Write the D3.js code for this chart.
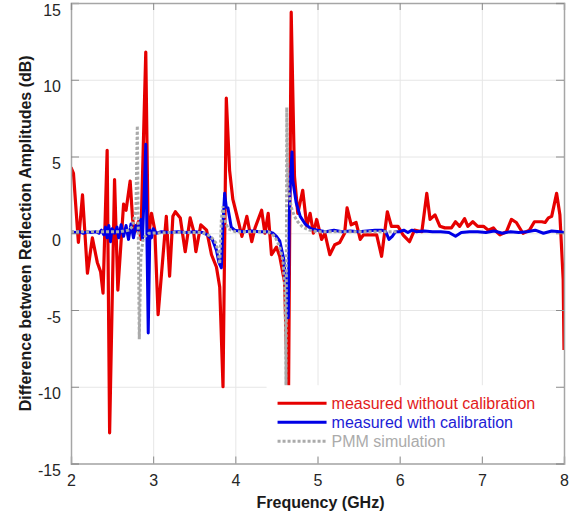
<!DOCTYPE html>
<html>
<head>
<meta charset="utf-8">
<script src="https://cdn.jsdelivr.net/npm/d3@7"></script>
<style>
    body { margin: 0; background: #fff; }
    svg text { font-family: "Liberation Sans", Arial, sans-serif; }
</style>
</head>
<body>
<div id="chart"></div>
<script>

// measured without calibration (red)
var redFreq = [2.00,2.03,2.09,2.14,2.20,2.26,2.32,2.36,2.39,2.44,2.47,2.53,2.57,2.64,2.67,2.72,2.75,2.78,2.82,2.85,
    2.91,2.94,2.98,3.02,3.06,3.16,3.20,3.24,3.27,3.33,3.39,3.45,3.49,3.52,3.58,3.65,3.71,3.77,3.81,3.85,
    3.89,3.93,3.97,4.04,4.08,4.14,4.20,4.24,4.32,4.36,4.40,4.44,4.50,4.54,4.60,4.645,4.68,4.72,4.76,4.82,
    4.87,4.91,4.95,4.99,5.05,5.09,5.15,5.21,5.27,5.33,5.36,5.41,5.47,5.52,5.56,5.64,5.72,5.78,5.85,5.90,
    5.98,6.04,6.12,6.18,6.27,6.33,6.37,6.43,6.49,6.55,6.63,6.68,6.73,6.79,6.83,6.89,6.95,7.02,7.08,7.14,
    7.18,7.22,7.30,7.36,7.42,7.50,7.58,7.64,7.73,7.77,7.81,7.85,7.91,7.95,7.99,8.00];
var redVals = [4.3,3.9,-0.6,2.5,-2.6,-0.3,-1.9,-2.5,-3.9,5.4,-13.0,3.5,-3.7,1.9,1.5,3.4,0.9,0.1,0.75,-0.4,
    11.8,-0.4,1.3,0.2,-5.3,1.1,-2.8,1.1,1.4,1.0,-1.2,1.0,0.2,-1.2,0.55,0.2,-1.4,-2.2,-3.5,-10.0,
    8.8,4.1,2.2,0.7,-0.2,1.1,-0.55,0.35,1.5,0,1.3,-1.4,-0.9,-1.5,-3.2,-12.5,14.4,3.7,1.3,2.8,
    0.45,1.3,0,0.9,-0.4,0,-1.4,-0.75,-0.6,0,1.65,0.55,0.7,-0.4,-0.1,-0.1,-0.1,-1.5,1.4,0.45,
    0.45,-0.1,-0.55,0.2,0.1,2.6,0.9,1.2,0.45,0.35,0.35,0.75,0.45,0.95,0.45,0.75,0.45,0.45,0.2,0.35,
    0.1,-0.1,0.1,0.9,0.7,0,0.2,0.75,0.75,0.7,1.0,1.1,2.6,1.2,-3.0,-7.6];

// measured with calibration (blue)
var blueFreq = [2.00,2.05,2.10,2.15,2.20,2.25,2.30,2.34,2.37,2.40,2.42,2.44,2.46,2.48,2.50,2.53,2.56,2.58,2.61,2.64,
    2.67,2.70,2.73,2.76,2.79,2.82,2.85,2.87,2.89,2.91,2.925,2.94,2.96,2.98,3.00,3.04,3.10,3.20,3.30,3.40,
    3.50,3.60,3.66,3.72,3.77,3.80,3.83,3.85,3.87,3.89,3.91,3.95,3.99,4.10,4.20,4.30,4.40,4.46,4.50,4.54,
    4.59,4.62,4.645,4.655,4.67,4.69,4.70,4.74,4.79,4.85,4.92,5.00,5.10,5.20,5.30,5.40,5.50,5.60,5.70,5.78,
    5.83,5.87,5.91,5.95,6.00,6.05,6.10,6.15,6.20,6.30,6.40,6.50,6.60,6.68,6.75,6.85,6.95,7.05,7.15,7.25,
    7.35,7.45,7.55,7.65,7.75,7.85,7.95,8.00];
var blueVals = [0.1,0.05,0.1,0.0,0.1,0.05,0.1,0.0,0.2,-0.1,0.4,-0.3,0.5,-0.55,0.3,0.0,0.4,-0.3,0.55,-0.2,
    0.5,-0.4,0.6,-0.3,0.5,0.2,0.9,-0.4,2.6,5.8,-0.6,-6.5,0.2,-0.3,0.3,0.0,0.1,0.05,0.1,0.05,
    0.1,0.05,-0.1,-0.4,-1.1,-1.9,-2.25,0.7,2.6,1.7,1.65,0.4,0.2,0.1,0.15,0.1,0.1,0.0,-0.2,-0.5,
    -1.7,-3.5,-5.5,0.9,3.5,5.3,3.4,2.0,1.1,0.6,0.3,0.2,0.1,0.2,0.1,0.15,0.1,0.15,0.2,0.2,
    0.1,-0.4,-0.2,0.1,0.1,0.2,0.05,0.2,0.1,0.15,0.1,0.1,0.05,-0.2,0.05,0.1,0.1,0.05,0.15,0.0,
    0.1,0.05,0.1,0.2,0.0,0.15,0.1,0.05];

// PMM simulation (grey, dotted)
var pmmFreq = [2.00,2.20,2.40,2.60,2.70,2.75,2.79,2.807,2.831,2.85,2.88,2.95,3.20,3.60,3.70,3.76,3.79,3.81,3.83,3.85,
    3.87,3.91,4.00,4.40,4.48,4.54,4.58,4.60,4.61,4.617,4.626,4.64,4.68,4.72,4.76,4.82,4.90,5.00,5.50,5.97];
var pmmVals = [0.1,0.1,0.1,0.1,0.2,0.45,1.5,7.0,-6.9,-1.5,-0.3,0.0,0.05,0.05,-0.2,-0.6,-1.2,-2.0,0.9,1.75,
    0.9,0.3,0.1,0.1,-0.2,-0.9,-1.8,-3.5,-6.0,-10.5,8.2,3.0,1.7,1.1,0.75,0.4,0.2,0.1,0.1,0.1];

var xTicks = [2, 3, 4, 5, 6, 7, 8];
var yTicks = [-15, -10, -5, 0, 5, 10, 15];
var legendLabels = ["measured without calibration", "measured with calibration", "PMM simulation"];
var seriesColors = ["#e60000", "#0000e6", "#aaaaaa"];
var legendTextColors = ["#e21b1b", "#1c1cd6", "#ababab"];

var width = 581, height = 518;
var margin = {top: 3, right: 17, bottom: 54.5, left: 71};
var plotW = width - margin.left - margin.right;
var plotH = height - margin.top - margin.bottom;

var svg = d3.select("#chart").append("svg")
    .attr("width", width)
    .attr("height", height);

svg.append("rect").attr("width", width).attr("height", height).attr("fill", "#fff");

var g = svg.append("g").attr("transform", "translate(" + margin.left + "," + margin.top + ")");

var x = d3.scaleLinear().domain([2, 8]).range([0, plotW]);
var y = d3.scaleLinear().domain([-15, 15]).range([plotH, 0]);

//grid lines
g.append("g")
    .attr("class", "grid")
    .attr("transform", "translate(0," + plotH + ")")
    .call(d3.axisBottom(x).tickValues(xTicks).tickSize(-plotH).tickFormat(""))
    .call(s => s.select(".domain").remove());
g.append("g")
    .attr("class", "grid")
    .call(d3.axisLeft(y).tickValues(yTicks).tickSize(-plotW).tickFormat(""))
    .call(s => s.select(".domain").remove());
g.selectAll(".grid line").attr("stroke", "#e6e6e6").attr("stroke-width", 1);

//curves
g.append("clipPath").attr("id", "clip")
    .append("rect").attr("width", plotW).attr("height", plotH);

var line = d3.line()
    .x(function (d) { return x(d[0]); })
    .y(function (d) { return y(d[1]); });

function pairs(f, v) {
    return f.map(function (d, i) { return [d, v[i]]; });
}

var curves = g.append("g").attr("clip-path", "url(#clip)");

curves.append("path")
    .datum(pairs(redFreq, redVals))
    .attr("d", line)
    .attr("fill", "none")
    .attr("stroke", seriesColors[0])
    .attr("stroke-width", 3.2)
    .attr("stroke-linejoin", "round");

curves.append("path")
    .datum(pairs(blueFreq, blueVals))
    .attr("d", line)
    .attr("fill", "none")
    .attr("stroke", seriesColors[1])
    .attr("stroke-width", 3)
    .attr("stroke-linejoin", "round");

curves.append("path")
    .datum(pairs(pmmFreq, pmmVals))
    .attr("d", line)
    .attr("fill", "none")
    .attr("stroke", seriesColors[2])
    .attr("stroke-width", 3)
    .attr("stroke-dasharray", "3,2");

//legend (white box over the plot, no border)
var legend = g.append("g").attr("transform", "translate(" + x(4.38) + "," + y(-9.9) + ")");
legend.append("rect")
    .attr("width", x(7.95) - x(4.38))
    .attr("height", y(-14.6) - y(-9.9))
    .attr("fill", "#fff");

legendLabels.forEach(function (label, i) {
    var row = legend.append("g").attr("transform", "translate(0," + (18 + i * 19) + ")");
    row.append("line")
        .attr("x1", 11).attr("x2", 60)
        .attr("stroke", seriesColors[i])
        .attr("stroke-width", 3)
        .attr("stroke-dasharray", i == 2 ? "3,2" : null);
    row.append("text")
        .attr("x", 65)
        .attr("dy", "0.35em")
        .attr("font-size", 16)
        .attr("fill", legendTextColors[i])
        .text(label);
});

//axes with inward ticks, box around the plot
var axisColor = "#a6a6a6";
var plainNum = function (d) { return String(d); };   // ascii hyphen for negatives

var xAxis = g.append("g")
    .attr("transform", "translate(0," + plotH + ")")
    .call(d3.axisBottom(x).tickValues(xTicks).tickSize(-7).tickPadding(11).tickFormat(plainNum));
var yAxis = g.append("g")
    .call(d3.axisLeft(y).tickValues(yTicks).tickSize(-8).tickPadding(10).tickFormat(plainNum));
var xTop = g.append("g")
    .call(d3.axisTop(x).tickValues(xTicks).tickSize(-7).tickFormat(""));
var yRight = g.append("g")
    .attr("transform", "translate(" + plotW + ",0)")
    .call(d3.axisRight(y).tickValues(yTicks).tickSize(-8).tickFormat(""));

[xAxis, yAxis, xTop, yRight].forEach(function (a) {
    a.select(".domain").attr("stroke", axisColor).attr("stroke-width", 1.5);
    a.selectAll(".tick line").attr("stroke", "#8c8c8c");
    a.selectAll("text").attr("font-size", 16).attr("fill", "#262626")
        .attr("font-family", "'Liberation Sans', Arial, sans-serif");
});
// MATLAB-like y labels sit a little below their tick
yAxis.selectAll("text").attr("dy", "0.75em");

//axis titles
svg.append("text")
    .attr("x", margin.left + plotW / 2 + 3)
    .attr("y", 508)
    .attr("text-anchor", "middle")
    .attr("font-size", 16)
    .attr("font-weight", "bold")
    .attr("fill", "#1a1a1a")
    .text("Frequency (GHz)");

svg.append("text")
    .attr("transform", "translate(31," + (margin.top + plotH / 2) + ") rotate(-90)")
    .attr("text-anchor", "middle")
    .attr("font-size", 16)
    .attr("font-weight", "bold")
    .attr("fill", "#1a1a1a")
    .text("Difference between Reflection Amplitudes (dB)");

</script>
</body>
</html>
